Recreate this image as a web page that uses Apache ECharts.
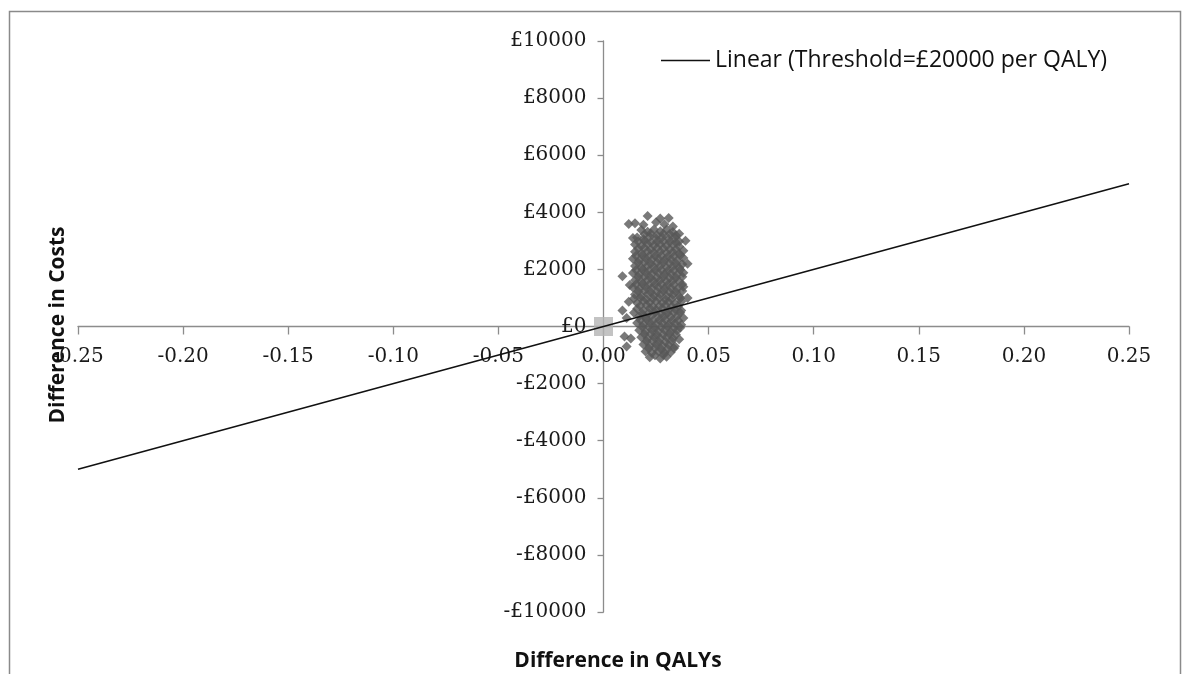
<!DOCTYPE html>
<html>
<head>
<meta charset="utf-8">
<script src="https://cdn.jsdelivr.net/npm/echarts@6/dist/echarts.min.js"></script>
<style>html,body{margin:0;padding:0;background:#fff}#c{width:1184px;height:674px}</style>
</head>
<body>
<div id="c"></div>
<script>
// Probabilistic sensitivity analysis points: [difference in QALYs, difference in costs (£)]
const simulationPoints = [
  [0.021,3870],[0.031,3800],[0.027,3780],
  [0.012,3590],[0.015,3620],[0.019,3560],[0.025,3650],[0.029,3580],[0.033,3500],
  [0.018,3380],[0.021,3320],[0.024,3400],[0.027,3340],[0.030,3390],[0.033,3310],[0.036,3250],
  [0.016,3120],[0.019,3060],[0.022,3140],[0.025,3080],[0.028,3130],[0.031,3070],[0.034,3110],[0.036,2980],
  [0.015,2870],[0.018,2820],[0.021,2890],[0.024,2840],[0.027,2880],[0.030,2830],[0.033,2860],[0.036,2800],
  [0.015,2620],[0.018,2570],[0.021,2640],[0.024,2590],[0.027,2630],[0.030,2580],[0.033,2610],[0.036,2560],[0.038,2650],
  [0.014,2370],[0.017,2320],[0.020,2390],[0.023,2340],[0.026,2380],[0.029,2330],[0.032,2360],[0.035,2310],[0.038,2400],
  [0.015,2120],[0.018,2070],[0.021,2140],[0.024,2080],[0.027,2130],[0.030,2070],[0.033,2110],[0.036,2060],
  [0.014,1870],[0.017,1820],[0.020,1890],[0.023,1840],[0.026,1880],[0.029,1830],[0.032,1860],[0.035,1810],[0.038,1880],
  [0.009,1760],
  [0.015,1620],[0.018,1570],[0.021,1640],[0.024,1590],[0.027,1630],[0.030,1580],[0.033,1610],[0.036,1570],
  [0.014,1370],[0.017,1320],[0.020,1390],[0.023,1340],[0.026,1380],[0.029,1330],[0.032,1360],[0.035,1310],[0.038,1390],
  [0.015,1120],[0.018,1070],[0.021,1140],[0.024,1080],[0.027,1130],[0.030,1070],[0.033,1110],[0.036,1050],
  [0.012,870],[0.016,820],[0.019,890],[0.022,840],[0.025,880],[0.028,830],[0.031,860],[0.034,810],[0.037,880],
  [0.009,560],[0.016,620],[0.019,570],[0.022,640],[0.025,590],[0.028,630],[0.031,580],[0.034,610],[0.037,560],
  [0.017,370],[0.020,320],[0.023,390],[0.026,340],[0.029,380],[0.032,330],[0.035,360],[0.038,300],
  [0.016,120],[0.019,70],[0.022,140],[0.025,80],[0.028,130],[0.031,70],[0.034,110],[0.037,60],
  [0.017,-130],[0.020,-180],[0.023,-110],[0.026,-170],[0.029,-120],[0.032,-180],[0.035,-140],
  [0.013,-420],[0.018,-380],[0.021,-430],[0.024,-370],[0.027,-420],[0.030,-380],[0.033,-410],[0.036,-450],
  [0.011,-700],[0.019,-630],[0.022,-680],[0.025,-620],[0.028,-670],[0.031,-640],[0.034,-690],
  [0.020,-880],[0.023,-930],[0.026,-870],[0.029,-920],[0.032,-900],
  [0.022,-1080],[0.027,-1120],[0.030,-1060],
  [0.0195,3230],[0.0225,3260],[0.0255,3200],[0.0285,3250],[0.0315,3240],[0.0345,3190],
  [0.0165,2980],[0.0195,3000],[0.0225,2950],[0.0255,2970],[0.0285,2990],[0.0315,2960],[0.0345,2940],
  [0.0165,2730],[0.0195,2760],[0.0225,2700],[0.0255,2750],[0.0285,2740],[0.0315,2710],[0.0345,2710],
  [0.0155,2480],[0.0185,2500],[0.0215,2450],[0.0245,2470],[0.0275,2490],[0.0305,2440],[0.0335,2460],[0.0365,2500],
  [0.0165,2230],[0.0195,2250],[0.0225,2200],[0.0255,2240],[0.0285,2240],[0.0315,2210],[0.0345,2210],[0.0375,2180],
  [0.0155,1980],[0.0185,2000],[0.0215,1950],[0.0245,1970],[0.0275,1990],[0.0305,1940],[0.0335,1960],[0.0365,1990],
  [0.0165,1730],[0.0195,1750],[0.0225,1700],[0.0255,1720],[0.0285,1740],[0.0315,1700],[0.0345,1710],[0.0375,1740],
  [0.0155,1480],[0.0185,1500],[0.0215,1450],[0.0245,1470],[0.0275,1490],[0.0305,1450],[0.0335,1460],[0.0375,1480],
  [0.0165,1230],[0.0195,1250],[0.0225,1200],[0.0255,1220],[0.0285,1240],[0.0315,1200],[0.0345,1210],[0.0375,1240],
  [0.0145,980],[0.0175,1000],[0.0205,950],[0.0235,970],[0.0265,990],[0.0295,950],[0.0325,960],[0.0365,990],
  [0.0175,730],[0.0205,750],[0.0235,700],[0.0265,720],[0.0295,740],[0.0325,700],[0.0355,710],
  [0.0145,480],[0.0185,450],[0.0215,470],[0.0245,490],[0.0275,450],[0.0305,460],[0.0335,490],[0.0365,480],
  [0.0175,230],[0.0205,250],[0.0235,200],[0.0265,220],[0.0295,240],[0.0325,200],[0.0355,210],
  [0.0185,-20],[0.0215,0],[0.0245,-50],[0.0275,-30],[0.0305,-10],[0.0335,-50],[0.0365,-40],
  [0.0195,-270],[0.0225,-250],[0.0255,-300],[0.0285,-280],[0.0315,-260],[0.0345,-290],
  [0.0205,-520],[0.0235,-500],[0.0265,-550],[0.0295,-530],[0.0325,-510],
  [0.0215,-770],[0.0245,-750],[0.0275,-800],[0.0305,-780],[0.0335,-760],
  [0.0245,-1010],[0.0285,-990],
  [0.0125,1450],[0.011,300],[0.040,1000],[0.040,2200],[0.039,3000],[0.014,3100],[0.010,-350]
];
// Reference point (comparator) at origin
const originPoint = [[0, 0]];
// Willingness-to-pay threshold line (£20000 per QALY)
const thresholdQaly = [-0.25, 0.25];
const thresholdCost = [-5000, 5000];
const thresholdName = 'Linear (Threshold=£20000 per QALY)';
// Axis settings
const xTicks = { min: -0.25, max: 0.25, interval: 0.05 };
const yTicks = { min: -10000, max: 10000, interval: 2000 };

const thresholdLine = thresholdQaly.map((q, i) => [q, thresholdCost[i]]);
const axisColor = '#8c8c8c';
const labelFont = { fontFamily: 'DejaVu Serif', fontSize: 20, color: '#1a1a1a' };

const chart = echarts.init(document.getElementById('c'), null, { renderer: 'canvas' });
const option = {
  backgroundColor: '#ffffff',
  animation: false,
  grid: { left: 78, right: 55, top: 41, bottom: 62, containLabel: false, outerBoundsMode: 'none' },
  legend: {
    data: [{ name: thresholdName, icon: 'rect' }],
    left: 656, top: 44,
    itemWidth: 49, itemHeight: 1.6, itemGap: 5,
    textStyle: { fontFamily: 'Open Sans', fontSize: 23, color: '#111' }
  },
  xAxis: {
    type: 'value', min: xTicks.min, max: xTicks.max, interval: xTicks.interval,
    axisLine: { onZero: false, lineStyle: { color: axisColor, width: 1.3 } },
    axisTick: { show: true, inside: false, length: 8, lineStyle: { color: axisColor, width: 1.3 } },
    axisLabel: Object.assign({ margin: 20, formatter: v => v.toFixed(2) }, labelFont),
    splitLine: { show: false }
  },
  yAxis: {
    type: 'value', min: yTicks.min, max: yTicks.max, interval: yTicks.interval,
    axisLine: { onZero: false, lineStyle: { color: axisColor, width: 1.3 } },
    axisTick: { show: true, inside: false, length: 6, lineStyle: { color: axisColor, width: 1.3 } },
    axisLabel: Object.assign({ margin: 17, formatter: v => (v < 0 ? '-£' + (-v) : '£' + v) }, labelFont),
    splitLine: { show: false }
  },
  graphic: [
    { type: 'rect', silent: true, z: -1, shape: { x: 9.5, y: 11.5, width: 1171, height: 700 },
      style: { fill: 'none', stroke: '#8a8a8a', lineWidth: 1.5 } },
    { type: 'text', x: 58, y: 325, rotation: Math.PI / 2,
      style: { text: 'Difference in Costs', fontFamily: 'Open Sans', fontWeight: 'bold', fontSize: 21, fill: '#111', align: 'center', verticalAlign: 'middle' } },
    { type: 'text', x: 618, y: 661,
      style: { text: 'Difference in QALYs', fontFamily: 'Open Sans', fontWeight: 'bold', fontSize: 21, fill: '#111', align: 'center', verticalAlign: 'middle' } }
  ],
  series: [
    { name: 'Comparator', type: 'scatter', data: originPoint, symbol: 'rect', symbolSize: 19,
      itemStyle: { color: '#b4b4b4' }, z: 2 },
    { name: 'Simulations', type: 'scatter', data: simulationPoints, symbol: 'diamond', symbolSize: 10,
      itemStyle: { color: '#575757' }, z: 3 },
    { name: thresholdName, type: 'line', data: thresholdLine, showSymbol: false, symbol: 'none',
      lineStyle: { color: '#111', width: 1.6 }, itemStyle: { color: '#111' }, z: 4 }
  ]
};
chart.setOption(option);
// Move axes so they cross at the origin (labels travel with them)
const origin = chart.convertToPixel({ gridIndex: 0 }, [0, 0]);
const corner = chart.convertToPixel({ gridIndex: 0 }, [xTicks.min, yTicks.min]);
chart.setOption({
  xAxis: { offset: origin[1] - corner[1] },
  yAxis: { offset: corner[0] - origin[0] }
});
</script>
</body>
</html>
